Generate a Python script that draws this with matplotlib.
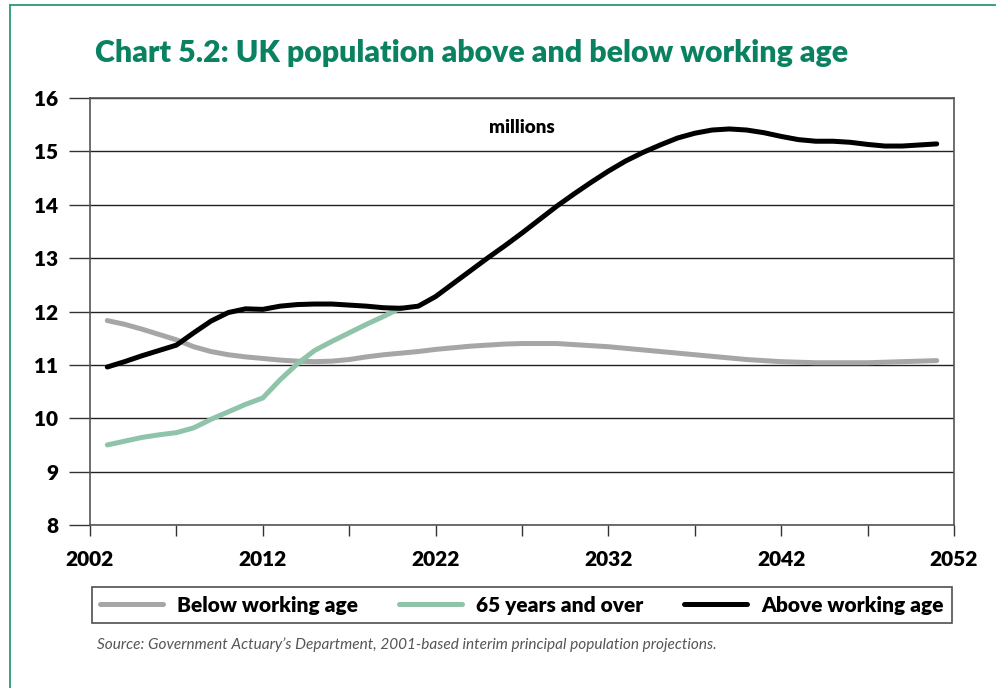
import matplotlib
matplotlib.use("Agg")
import matplotlib.pyplot as plt
from matplotlib.lines import Line2D

# UK population projections, millions
years = list(range(2003, 2052))
below_working = [11.83, 11.76, 11.67, 11.57, 11.47, 11.34, 11.25, 11.19, 11.15, 11.12,
                 11.09, 11.07, 11.06, 11.07, 11.10, 11.15, 11.19, 11.22, 11.25, 11.29,
                 11.32, 11.35, 11.37, 11.39, 11.40, 11.40, 11.40, 11.38, 11.36, 11.34,
                 11.31, 11.28, 11.25, 11.22, 11.19, 11.16, 11.13, 11.10, 11.08, 11.06,
                 11.05, 11.04, 11.04, 11.04, 11.04, 11.05, 11.06, 11.07, 11.08]
above_working = [10.96, 11.06, 11.17, 11.27, 11.37, 11.60, 11.82, 11.98, 12.05, 12.04,
                 12.10, 12.13, 12.14, 12.14, 12.12, 12.10, 12.07, 12.06, 12.10, 12.28,
                 12.52, 12.76, 13.00, 13.23, 13.47, 13.72, 13.97, 14.20, 14.42, 14.63,
                 14.82, 14.98, 15.12, 15.25, 15.34, 15.40, 15.42, 15.40, 15.35, 15.28,
                 15.22, 15.19, 15.19, 15.17, 15.13, 15.10, 15.10, 15.12, 15.14]
years_65 = list(range(2003, 2021))
over_65 = [9.50, 9.57, 9.64, 9.69, 9.73, 9.82, 9.98, 10.12, 10.26, 10.38,
           10.72, 11.02, 11.27, 11.44, 11.60, 11.76, 11.91, 12.07]

x_labels = ["2002", "2012", "2022", "2032", "2042", "2052"]
y_ticks = [8, 9, 10, 11, 12, 13, 14, 15, 16]
y_labels = ["8", "9", "10", "11", "12", "13", "14", "15", "16"]

GREEN = "#0a8262"
FONT = "Lato"
WEIGHT = "heavy"

fig = plt.figure(figsize=(9.96, 6.88), dpi=100)
W, H = 996, 688
ax = fig.add_axes([90 / W, 1 - 525 / H, 864 / W, 427 / H])

ax.plot(years, below_working, color="#a6a6a6", lw=3.6, solid_capstyle="round",
        label="Below working age", zorder=3)
ax.plot(years_65, over_65, color="#8fc3aa", lw=3.6, solid_capstyle="round",
        label="65 years and over", zorder=3)
ax.plot(years, above_working, color="black", lw=3.6, solid_capstyle="round",
        label="Above working age", zorder=4)

ax.set_xlim(2002, 2052)
ax.set_ylim(8, 16)
ax.set_xticks([int(v) for v in x_labels])
ax.set_xticklabels(x_labels)
ax.set_xticks(range(2007, 2052, 10), minor=True)
ax.set_yticks(y_ticks)
ax.set_yticklabels(y_labels)

ax.grid(axis="y", color="#222222", lw=1.0, zorder=1)
ax.tick_params(axis="y", length=15, width=1.0, color="#333333", pad=8)
ax.tick_params(axis="x", which="both", length=8, width=1.0, color="#333333", pad=10)
for lab in ax.get_xticklabels() + ax.get_yticklabels():
    lab.set_fontfamily(FONT)
    lab.set_fontweight(WEIGHT)
    lab.set_fontsize(15)
for side in ["left", "right", "top", "bottom"]:
    ax.spines[side].set_color("#555555")
    ax.spines[side].set_linewidth(1.2)

ax.text(0.5, 0.93, "millions", transform=ax.transAxes, ha="center", va="center",
        fontfamily=FONT, fontweight=WEIGHT, fontsize=13.5)

fig.text(95 / W, 1 - 62 / H, "Chart 5.2: UK population above and below working age",
         ha="left", va="baseline", color=GREEN, fontfamily=FONT, fontweight=WEIGHT,
         fontsize=21.8)

leg = fig.legend(loc="lower left", ncol=3, mode="expand",
                 bbox_to_anchor=(92 / W, 1 - 623 / H, 860 / W, 41 / H),
                 prop={"family": FONT, "weight": WEIGHT, "size": 15},
                 handlelength=3.0, handletextpad=0.7, borderaxespad=0, frameon=True,
                 fancybox=False, edgecolor="#222222")
leg.get_frame().set_linewidth(1.2)

fig.text(97 / W, 1 - 645 / H,
         "Source: Government Actuary\u2019s Department, 2001-based interim principal population projections.",
         ha="left", va="center", color="#555555", fontfamily=FONT, fontstyle="italic",
         fontsize=11.1)

# page frame
fig.add_artist(Line2D([10 / W, 10 / W], [0, 1 - 4.5 / H], transform=fig.transFigure,
                      color="#2a9a78", lw=1.3))
fig.add_artist(Line2D([10 / W, 1], [1 - 4.5 / H, 1 - 4.5 / H], transform=fig.transFigure,
                      color="#2a9a78", lw=1.3))

fig.savefig("out.png", dpi=100)
